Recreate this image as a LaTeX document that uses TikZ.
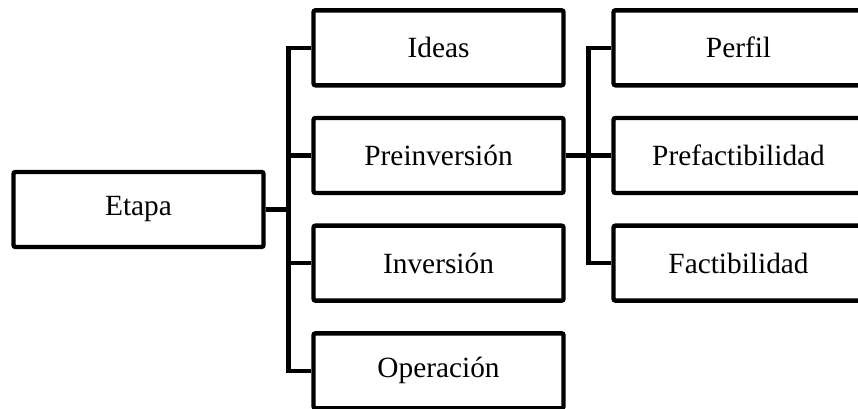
\documentclass[tikz,border=0pt]{standalone}
\usepackage{fontspec}
\setmainfont{Liberation Serif}
\usepackage{tikz}
\usetikzlibrary{positioning,calc}

\begin{document}
\begin{tikzpicture}[
    node distance=21.2pt and 34.2pt,
    stage/.style={rectangle,rounded corners=1.5pt,draw=black,line width=3.3pt,
      minimum width=187.5pt,minimum height=56.25pt,align=center,
      font=\fontsize{22}{26}\selectfont},
    link/.style={line width=3.3pt}
  ]
    \useasboundingbox (0,0) rectangle (643.5pt,-306pt);
    \node[stage] (etapa) at (103.9pt,-157.1pt) {Etapa};
    \node[stage,right=of etapa,yshift=40.5pt] (preinv) {Preinversión};
    \node[stage,above=of preinv] (ideas) {Ideas};
    \node[stage,below=of preinv] (inv) {Inversión};
    \node[stage,below=of inv] (oper) {Operación};
    \node[stage,right=of preinv] (prefact) {Prefactibilidad};
    \node[stage,above=of prefact] (perfil) {Perfil};
    \node[stage,below=of prefact] (fact) {Factibilidad};
    % buses between the columns
    \coordinate (bus1) at ($(etapa.east)!0.5!(etapa.east -| ideas.west)$);
    \coordinate (bus2) at ($(preinv.east)!0.5!(prefact.west)$);
    \foreach \n in {ideas,preinv,inv,oper}
      \draw[link] (etapa.east) -- (bus1) |- (\n.west);
    \foreach \n in {perfil,prefact,fact}
      \draw[link] (preinv.east) -- (bus2) |- (\n.west);
  \end{tikzpicture}
\end{document}
